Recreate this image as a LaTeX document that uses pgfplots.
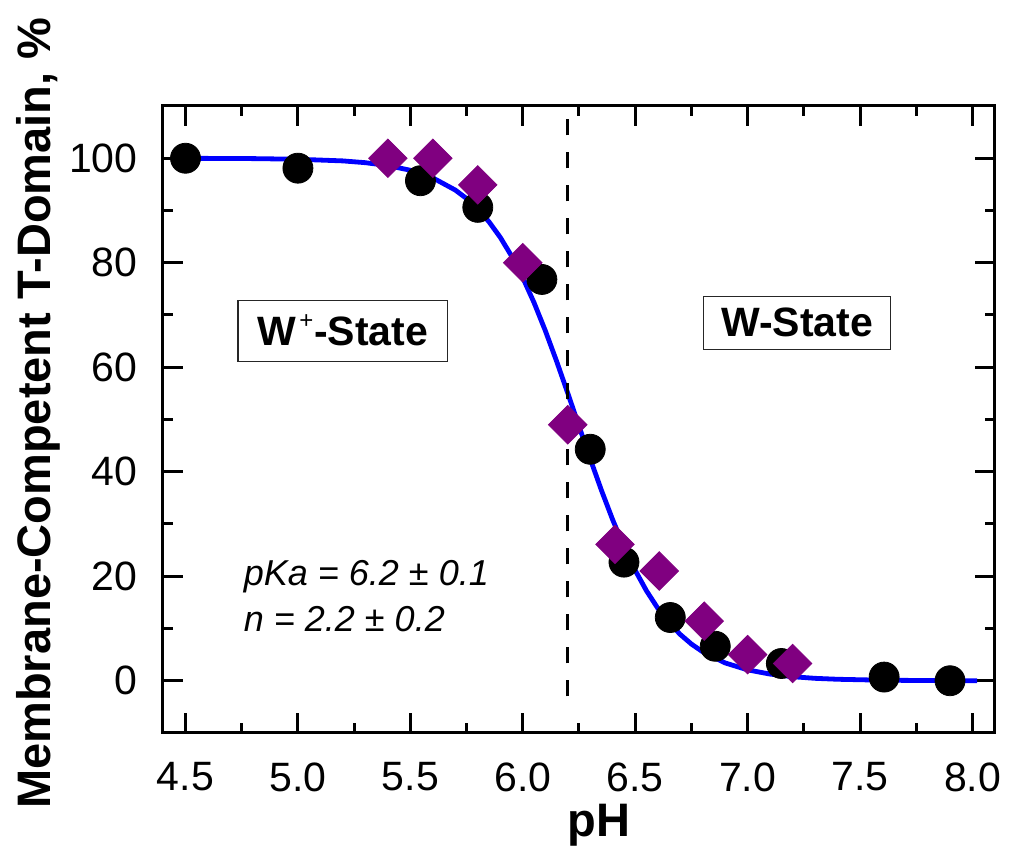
\documentclass[border=0pt]{standalone}
\usepackage{fontspec}
\setmainfont{Liberation Sans}
\usepackage{pgfplots}
\pgfplotsset{compat=1.18}
\definecolor{mypurple}{RGB}{128,0,128}
\begin{document}
\begin{tikzpicture}
\path[use as bounding box] (-81.5pt,-61pt) rectangle (430.5pt,366.5pt);
\begin{axis}[
 at={(0,0)}, anchor=south west,
 width=416pt, height=313.5pt, scale only axis,
 xmin=4.4, xmax=8.1, ymin=-10, ymax=110,
 xtick={4.5,5.0,...,8.0}, ytick={0,20,...,100},
 minor x tick num=1, minor y tick num=1,
 tick align=inside,
 major tick length=10pt, minor tick length=5pt,
 every tick/.style={black, line width=1.5pt},
 axis line style={line width=1.5pt},
 /pgf/number format/assume math mode=true,
 tick label style={font=\fontsize{20.5}{24}\selectfont, inner sep=0pt},
 xticklabel style={yshift=-14.5pt, /pgf/number format/.cd, fixed, fixed zerofill, precision=1},
 yticklabel style={xshift=-12.5pt},
 xlabel={pH}, ylabel={Membrane-Competent T-Domain, \%},
 label style={font=\bfseries\fontsize{23.5}{28}\selectfont, inner sep=0pt},
 xlabel style={at={(axis description cs:0.524,0)}, anchor=base, yshift=-52pt},
 ylabel style={at={(axis description cs:-0.1358,0.51)}, anchor=base},
]
\addplot[blue, line width=2.4pt, no markers] coordinates {
(4.5,99.99) (4.8,99.93) (5.0,99.81) (5.2,99.49) (5.3,99.15) (5.4,98.60)
(5.5,97.70) (5.6,96.24) (5.7,93.91) (5.75,92.29) (5.8,90.28) (5.85,87.82)
(5.9,84.85) (5.95,81.29) (6.0,77.13) (6.05,72.37) (6.1,67.02) (6.15,61.20)
(6.2,55.05) (6.25,48.73) (6.3,42.46) (6.35,36.42) (6.4,30.78) (6.45,25.66)
(6.5,21.13) (6.55,17.22) (6.6,13.90) (6.65,11.14) (6.7,8.87) (6.75,7.02)
(6.8,5.54) (6.9,3.41) (7.0,2.08) (7.1,1.27) (7.2,0.77) (7.3,0.46)
(7.4,0.28) (7.6,0.10) (7.8,0.04) (8.02,0.01)
};
\addplot[only marks, mark=*, mark size=7.5pt, black] coordinates {
(4.5,100) (5.0,98.1) (5.545,95.7) (5.8,90.6) (6.085,76.8) (6.3,44.3)
(6.45,22.7) (6.656,12.1) (6.856,6.6) (7.15,3.3) (7.607,0.7) (7.9,0)
};
\addplot[only marks, mark=square*, mark size=6.8pt, draw=mypurple, fill=mypurple, mark options={rotate=45}] coordinates {
(5.4,100) (5.6,100) (5.8,94.9) (6.0,80) (6.2,49.0) (6.41,26.1)
(6.607,21.0) (6.807,11.4) (7.0,5.0) (7.2,3.3)
};
\addplot[black, line width=1.5pt, dash pattern=on 8pt off 8.5pt] coordinates {(6.2,-3) (6.2,108.5)};
\node[draw=black!85, line width=0.6pt, inner xsep=9.75pt, inner ysep=7.4pt, font=\bfseries\fontsize{20.5}{24}\selectfont] at (axis cs:5.2,67) {W\hspace{1.5pt}\raisebox{8.6pt}{\mdseries\fontsize{12}{12}\selectfont +}\hspace{0.5pt}-State};
\node[draw=black!85, line width=0.6pt, inner xsep=8.75pt, inner ysep=6pt, font=\bfseries\fontsize{20.5}{24}\selectfont] at (axis cs:7.22,68.5) {W-State};
\node[anchor=base west, inner sep=0pt, font=\itshape\fontsize{18}{22}\selectfont] at (axis cs:4.758,18.16) {pKa = 6.2 ± 0.1};
\node[anchor=base west, inner sep=0pt, font=\itshape\fontsize{18}{22}\selectfont] at (axis cs:4.758,9.37) {n = 2.2 ± 0.2};
\end{axis}
\end{tikzpicture}
\end{document}
